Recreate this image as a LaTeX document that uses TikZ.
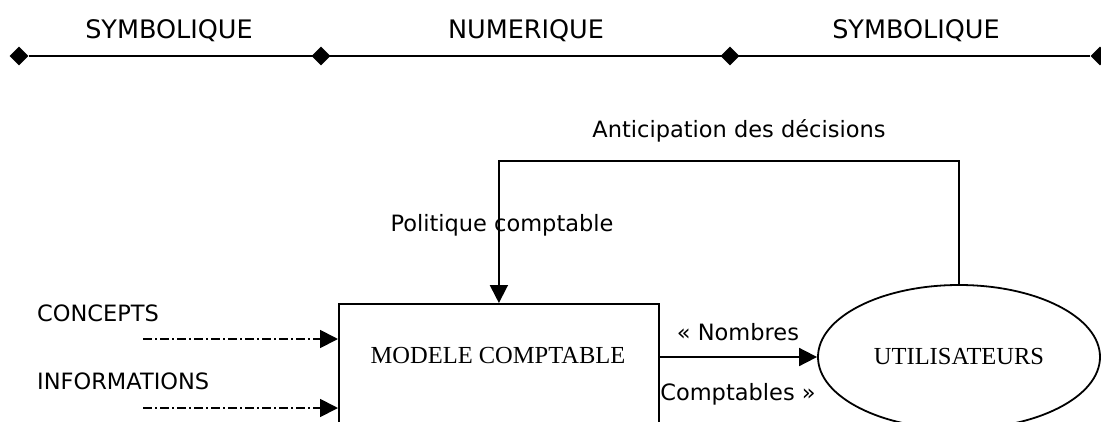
\documentclass[tikz,border=0pt]{standalone}
\usepackage{fontspec}
\setmainfont{Liberation Serif}
\newfontfamily\comicfont{DejaVu Sans}
\usetikzlibrary{arrows.meta,shapes.geometric}
\tikzset{
  lbl/.style={font=\comicfont\fontsize{22.5}{27}\selectfont, anchor=base, inner sep=0pt},
  toplbl/.style={font=\comicfont\fontsize{25.5}{30}\selectfont, anchor=base, inner sep=0pt},
  serif/.style={font=\rmfamily\fontsize{24.5}{29}\selectfont},
  dmd/.style={diamond, fill=black, inner sep=0pt, minimum width=19pt, minimum height=19pt},
  ln/.style={line width=1.8pt},
  arr/.style={ln, -{Triangle[length=18pt,width=18pt]}},
  dd/.style={arr, dash pattern=on 9pt off 3pt on 2pt off 3pt},
}
\begin{document}
\begin{tikzpicture}[x=1pt,y=-1pt]
\useasboundingbox (0,0) rectangle (1101,421);
\clip (0,0) rectangle (1101,421);
% top scale
\node[dmd] (d1) at (19,56) {};
\node[dmd] (d2) at (321,56) {};
\node[dmd] (d3) at (730,56) {};
\node[dmd] (d4) at (1100,56) {};
\draw[ln] (d1) -- (d4);
\node[toplbl] (t1) at (169,38) {SYMBOLIQUE};
\node[toplbl] (t2) at (526,38) {NUMERIQUE};
\node[toplbl] (t3) at (916,38) {SYMBOLIQUE};
% labels
\node[lbl] (ant) at (739,137) {Anticipation des décisions};
\node[lbl] (pol) at (502,231) {Politique comptable};
\node[lbl, anchor=base west] (con) at (37,321.5) {CONCEPTS};
\node[lbl, anchor=base west] (inf) at (37,389) {INFORMATIONS};
\node[lbl] (nom) at (738,340) {« Nombres};
\node[lbl] (cpt) at (738,400) {Comptables »};
% box and ellipse
\node[draw, ln, minimum width=320pt, minimum height=160pt, anchor=north west, inner sep=0pt] (mc) at (338,303) {};
\node[serif, anchor=base, inner sep=0pt] (mct) at (498,363) {MODELE COMPTABLE};
\node[ellipse, draw, ln, minimum width=282pt, minimum height=144pt, inner sep=0pt, serif] (ut) at (959,357) {UTILISATEURS};
% connectors
\coordinate (fb) at (0,161);
\draw[arr] (ut.north) -- (ut.north |- fb) -| (mc.north);
\draw[arr] (mc.east |- ut.west) -- (ut.west);
\coordinate (s1) at (143,339);
\coordinate (s2) at (143,408);
\draw[dd] (s1) -- (s1 -| mc.west);
\draw[dd] (s2) -- (s2 -| mc.west);
\end{tikzpicture}
\end{document}
